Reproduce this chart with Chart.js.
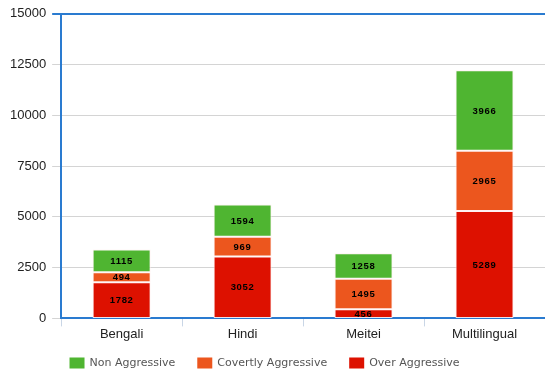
<!DOCTYPE html>
<html>
<head>
<meta charset="utf-8">
<script src="https://cdn.jsdelivr.net/npm/chart.js@4/dist/chart.umd.min.js"></script>
<style>
  html, body { margin: 0; padding: 0; background: #fff; }
  #wrap { width: 545px; height: 373px; }
</style>
</head>
<body>
<div id="wrap"><canvas id="c" width="545" height="373"></canvas></div>
<script>
// Dataset sizes per language, split by aggression class
const languages = ['Bengali', 'Hindi', 'Meitei', 'Multilingual'];
const overAggressive = [1782, 3052, 456, 5289];
const covertlyAggressive = [494, 969, 1495, 2965];
const nonAggressive = [1115, 1594, 1258, 3966];
const yTicks = [0, 2500, 5000, 7500, 10000, 12500, 15000];

const FRAME_BLUE = '#2a7bd0';
const GRID_GRAY = '#d4d4d4';

// Writes each segment's value in the middle of its bar piece
const segmentLabels = {
  id: 'segmentLabels',
  afterDatasetsDraw(chart) {
    const ctx = chart.ctx;
    ctx.save();
    ctx.font = 'bold 9.5px "Liberation Sans", Arial, sans-serif';
    ctx.fillStyle = '#000';
    ctx.textAlign = 'center';
    ctx.textBaseline = 'middle';
    if ('letterSpacing' in ctx) ctx.letterSpacing = '0.7px';
    chart.data.datasets.forEach((ds, i) => {
      const meta = chart.getDatasetMeta(i);
      meta.data.forEach((bar, j) => {
        const p = bar.getProps(['x', 'y', 'base'], true);
        ctx.fillText(String(ds.data[j]), p.x, (p.y + p.base) / 2 + 0.5);
      });
    });
    ctx.restore();
  }
};

// Single-row legend under the axis, top series first, with wide gaps between entries
const wideLegend = {
  id: 'wideLegend',
  afterDraw(chart) {
    const ctx = chart.ctx;
    const items = chart.data.datasets.map(ds => ({ text: ds.label, color: ds.backgroundColor })).reverse();
    const box = 15, boxH = 11, textGap = 5, itemGap = 22;
    ctx.save();
    ctx.font = '11px "DejaVu Sans", Verdana, sans-serif';
    const widths = items.map(it => box + textGap + ctx.measureText(it.text).width);
    const total = widths.reduce((a, b) => a + b, 0) + itemGap * (items.length - 1);
    let x = (chart.width - total) / 2 - 8;
    const yMid = chart.height - 10;
    ctx.textBaseline = 'middle';
    ctx.textAlign = 'left';
    items.forEach((it, i) => {
      ctx.fillStyle = it.color;
      ctx.fillRect(x, yMid - boxH / 2, box, boxH);
      ctx.fillStyle = '#555';
      ctx.fillText(it.text, x + box + textGap, yMid);
      x += widths[i] + itemGap;
    });
    ctx.restore();
  }
};

new Chart(document.getElementById('c'), {
  type: 'bar',
  data: {
    labels: languages,
    datasets: [
      { label: 'Over Aggressive', data: overAggressive, backgroundColor: '#dd1100' },
      { label: 'Covertly Aggressive', data: covertlyAggressive, backgroundColor: '#ec561e' },
      { label: 'Non Aggressive', data: nonAggressive, backgroundColor: '#4fb531' }
    ].map(d => Object.assign(d, {
      borderColor: 'rgba(255,240,240,0.9)',
      borderWidth: 1,
      borderSkipped: false,
      categoryPercentage: 1,
      barPercentage: 0.48
    }))
  },
  options: {
    responsive: false,
    animation: false,
    layout: { padding: { top: 10, left: 4, right: 0, bottom: 31 } },
    plugins: {
      tooltip: { enabled: false },
      legend: { display: false }
    },
    scales: {
      x: {
        stacked: true,
        border: { display: true, color: FRAME_BLUE, width: 2 },
        grid: {
          offset: true,
          drawOnChartArea: false,
          drawTicks: true,
          tickLength: 8,
          color: '#c9d6e6'
        },
        ticks: {
          color: '#222',
          padding: 0,
          font: { family: '"Liberation Sans", Arial, sans-serif', size: 13 }
        }
      },
      y: {
        stacked: true,
        min: 0,
        max: 15000,
        afterBuildTicks(axis) { axis.ticks = yTicks.map(v => ({ value: v })); },
        border: { display: true, color: FRAME_BLUE, width: 2 },
        grid: {
          drawTicks: true,
          tickLength: 9,
          color: ctx => ctx.tick && ctx.tick.value === 15000 ? FRAME_BLUE : GRID_GRAY,
          lineWidth: ctx => ctx.tick && ctx.tick.value === 15000 ? 2 : 1
        },
        ticks: {
          color: '#222',
          padding: 6,
          callback: v => String(v),
          font: { family: '"Liberation Sans", Arial, sans-serif', size: 13 }
        }
      }
    }
  },
  plugins: [segmentLabels, wideLegend]
});
</script>
</body>
</html>
